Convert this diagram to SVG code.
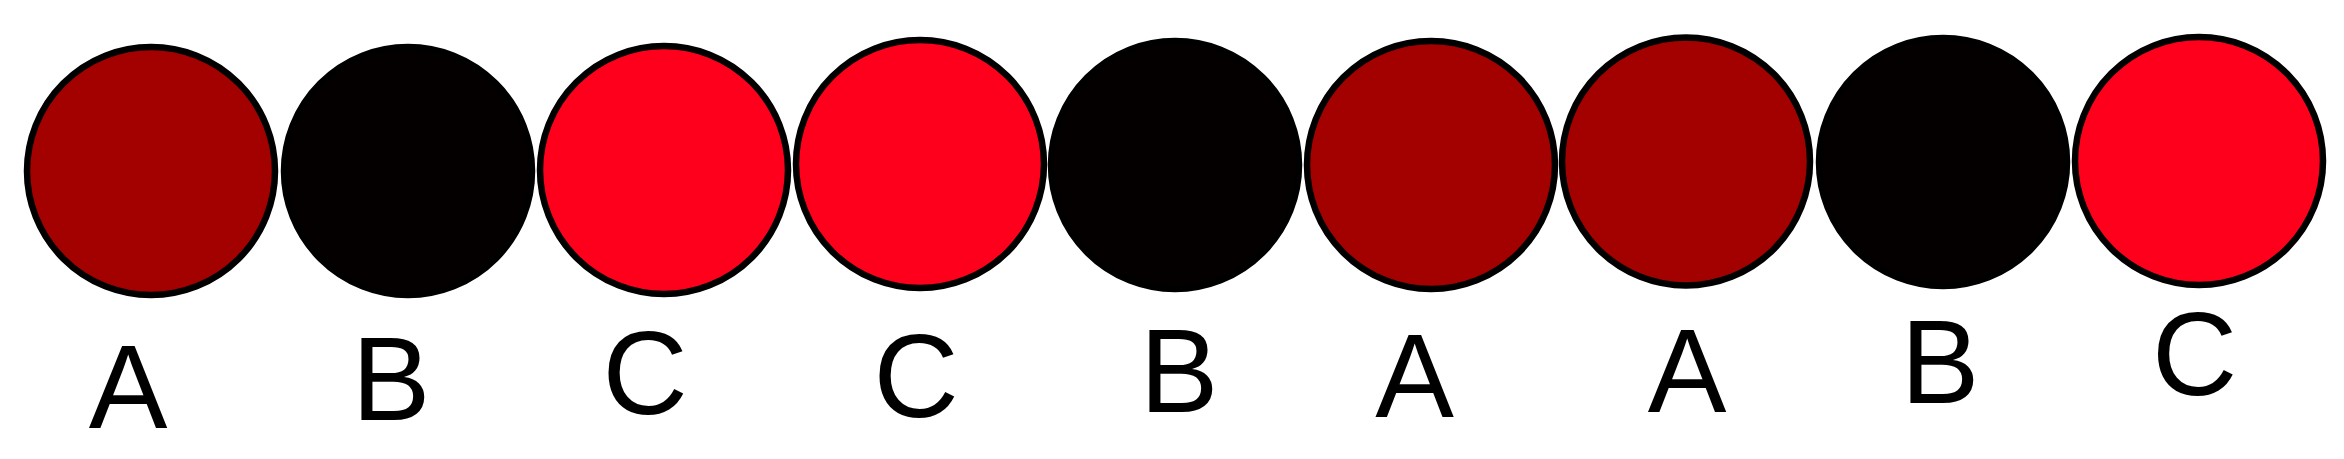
<svg xmlns="http://www.w3.org/2000/svg" width="2344" height="459" viewBox="0 0 2344 459">
<style>
.n{stroke:#000;stroke-width:6.5}
.a{fill:#A30000}
.b{fill:#050000}
.c{fill:#FF001C}
text{font-family:"Liberation Sans",Arial,sans-serif;font-size:118px;fill:#000;text-anchor:middle}
</style>
<rect width="2344" height="459" fill="#fff"/>
<g id="connectors"/>
<g id="n1"><circle class="n a" cx="151" cy="171" r="124"/><text x="128" y="427.5">A</text></g>
<g id="n2"><circle class="n b" cx="408" cy="171" r="124"/><text x="391" y="420">B</text></g>
<g id="n3"><circle class="n c" cx="664" cy="170" r="124"/><text x="645" y="414">C</text></g>
<g id="n4"><circle class="n c" cx="920" cy="164" r="124"/><text x="916" y="417">C</text></g>
<g id="n5"><circle class="n b" cx="1175" cy="165" r="124"/><text x="1179" y="411.5">B</text></g>
<g id="n6"><circle class="n a" cx="1431" cy="165" r="124"/><text x="1414.5" y="416.5">A</text></g>
<g id="n7"><circle class="n a" cx="1686" cy="161.5" r="124"/><text x="1687" y="412">A</text></g>
<g id="n8"><circle class="n b" cx="1943" cy="162" r="124"/><text x="1940" y="402.5">B</text></g>
<g id="n9"><circle class="n c" cx="2199" cy="161" r="124"/><text x="2194.5" y="395">C</text></g>
</svg>
